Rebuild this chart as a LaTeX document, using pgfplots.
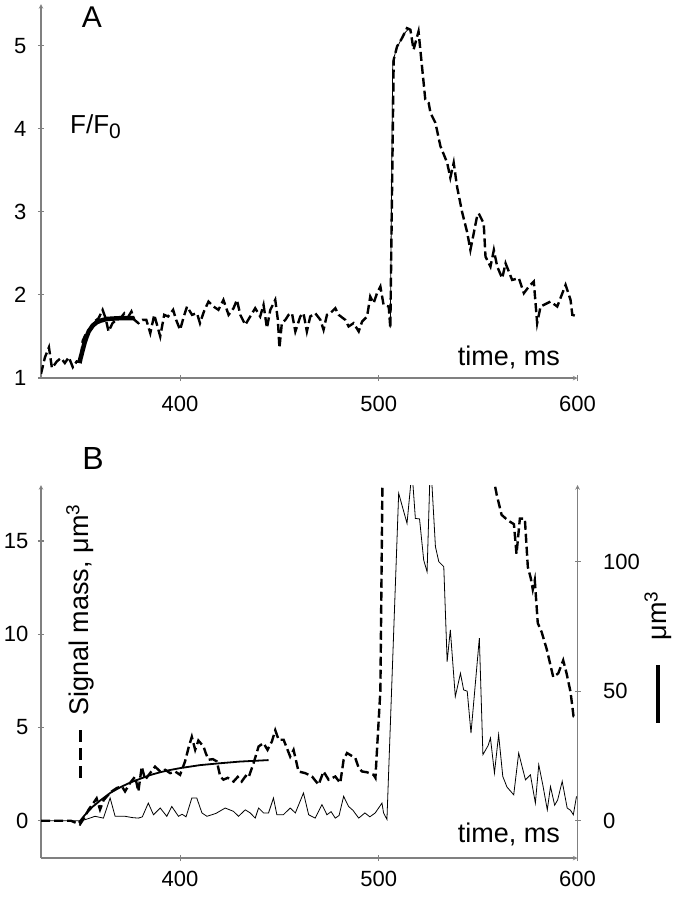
\documentclass[border=0pt]{standalone}
\usepackage{fontspec}
\setmainfont{Liberation Sans}
\usepackage{pgfplots}
\pgfplotsset{compat=1.18}
\definecolor{axgray}{RGB}{128,128,128}
\definecolor{thin}{RGB}{70,70,70}
\pgfplotsset{
 myax/.style={scale only axis, width=536.5pt, xmin=330, xmax=600,
  axis line style={draw=axgray, line width=1.1pt, -},
  every outer x axis line/.append style={-},
  every outer y axis line/.append style={-},
  every inner x axis line/.append style={-},
  every inner y axis line/.append style={-},
  tick style={draw=axgray, line width=1.1pt},
  tick align=outside, major tick length=6pt,
  ticklabel style={font=\fontsize{22}{24}\selectfont},
  /pgf/number format/assume math mode=true,
 },
 dashedtrace/.style={black, line width=2.4pt, dash pattern=on 9pt off 4pt},
}
\begin{document}
\begin{tikzpicture}[x=1pt,y=1pt]
\path[use as bounding box] (0,0) rectangle (675,-899);
% ---------------- Panel A
\begin{axis}[myax, at={(41pt,-378pt)}, anchor=south west, height=374pt,
  ymin=1, ymax=5.5, axis x line=bottom, axis y line=left,
  xtick={400,500,600}, ytick={1,2,3,4,5},
  xticklabel style={yshift=-12pt}, yticklabel style={xshift=-8pt}]
\addplot[dashedtrace] table {
330 1.05
332 1.25
334 1.37
335.5 1.12
338 1.2
340 1.24
342 1.18
344 1.25
346 1.13
348 1.2
350 1.19
351 1.45
353 1.55
355 1.6
357 1.68
359 1.72
361 1.82
362.5 1.72
364 1.56
366 1.66
368 1.7
370 1.72
372 1.78
374 1.74
375.5 1.8
377 1.7
379 1.66
381 1.7
383 1.7
385 1.54
387 1.76
390 1.5
392 1.76
394 1.74
396.5 1.82
398 1.7
400 1.58
402 1.75
403.5 1.86
406 1.76
408.5 1.78
410 1.66
412 1.8
414.3 1.92
416.8 1.86
419.3 1.82
421.8 1.94
424.4 1.76
426.9 1.84
428.6 1.94
430.3 1.76
432.8 1.64
435.3 1.74
437.8 1.84
440.3 1.74
442 1.88
443.7 1.6
445.4 1.82
447.9 1.94
449.2 1.7
450 1.36
451.2 1.66
453 1.7
454.6 1.76
456.3 1.78
458 1.56
460.5 1.74
462.1 1.78
463.8 1.56
465.5 1.74
468 1.78
470.6 1.7
472.2 1.58
473.9 1.76
475.6 1.78
478.1 1.84
479.8 1.76
483.1 1.7
484.8 1.62
487.3 1.66
489.9 1.56
491.6 1.68
494.1 1.74
495.7 1.98
497.4 1.9
499.1 2.02
500.8 2.1
502.4 1.88
505 1.86
505.8 1.6
507.5 4.83
509.2 4.99
511.7 5.09
514.2 5.21
515.9 5.19
517.5 4.95
520 5.17
520.9 4.95
523.4 4.35
525.1 4.31
526 4.19
528.5 4.07
531 3.79
534.4 3.59
536 3.41
537.7 3.59
539.4 3.3
541.9 3.0
544.5 2.75
546.1 2.54
549.5 2.95
550.3 2.98
552.8 2.86
553.7 2.46
556.2 2.34
557.9 2.54
559.6 2.34
562.1 2.2
563.8 2.38
567.1 2.18
570.5 2.2
573 2.02
575.5 2.1
578 2.16
579.7 1.66
581.4 1.86
583.1 1.88
586.4 1.92
589.8 1.86
594 2.12
596.5 1.94
597.4 1.76
600 1.74
};
\addplot[thin, line width=0.8pt] table {
505.8 1.6
507 4.8
509 4.97
511 5.06
513 5.15
515 5.2
};
\addplot[black, line width=4.5pt] table {
349.5 1.2
351 1.34
352 1.43
353 1.5
354 1.56
356 1.63
358 1.67
360 1.69
363 1.71
366 1.715
370 1.72
377 1.72
};
\end{axis}
\node[font=\fontsize{30}{30}\selectfont] at (92,-17) {A};
\node[font=\fontsize{26}{26}\selectfont, anchor=base west, inner sep=0pt] at (70,-133) {F/F\raisebox{-5pt}{\fontsize{21}{21}\selectfont 0}};
\node[font=\fontsize{27}{27}\selectfont, anchor=base east, inner sep=0pt] at (560,-365) {time, ms};
% ---------------- Panel B (left axis)
\begin{axis}[myax, at={(41pt,-858pt)}, anchor=south west, height=373pt,
  ymin=-2, ymax=18, axis x line=bottom, axis y line=left,
  xtick={400,500,600}, ytick={0,5,10,15},
  xticklabel style={yshift=-7pt}, yticklabel style={xshift=-6pt}]
\addplot[dashedtrace] table {
330 0
335 0
340 0
345 0
349.6 -0.2
352 0.2
354 0.6
356.4 0.95
358 1.2
359.7 0.6
361.5 1.1
363.1 1.3
365.6 1.57
368.1 1.75
370.7 1.84
372.3 1.57
374.8 2.02
377.4 2.37
379 1.57
380.7 2.9
382.4 2.2
384.9 2.55
387.4 2.9
390 2.64
392.5 2.73
395 2.55
397.5 2.64
400 2.46
402.5 3.18
404.2 3.89
405.9 4.5
407.6 3.8
409.2 4.3
411.8 3.98
413 3.6
414.3 3.27
416.5 3.3
418.5 3.18
420.2 2.37
421.8 2.2
424 2.3
426.9 2.1
429 2.35
431 2.1
433 2.4
434.4 2.3
437 3.09
439.5 3.98
442 4.16
444 3.8
446.2 4.25
447.9 4.85
449.6 4.34
452.1 4.34
455.4 3.44
457.1 3.8
459.6 2.64
463 2.55
466.4 2.37
469.7 1.93
472.2 2.64
474.7 2.2
478.1 2.37
480.6 2.02
482.3 3.27
484 3.63
486 3.5
488.2 3.36
489.9 2.82
491.6 2.64
494 2.6
497.4 2.46
498.3 2.3
500.8 7.0
502 20
504 40
530 60
556 25
557.5 18.5
559.3 17.5
561.8 16.4
565 16.1
568 15.9
569.3 14.3
571 16.2
573.5 16.2
575 13.6
576.5 13.0
577.5 12.4
578.5 12.9
580 10.6
582 10.1
584.5 9.2
587.8 7.7
590.3 7.9
592.8 8.6
594.5 7.9
596.5 6.9
598 5.6
600 5.5
};
\addplot[black, line width=1.8pt] table {
349 -0.1
352 0.3
356 0.75
360 1.1
365 1.5
370 1.8
375 2.05
380 2.25
385 2.45
390 2.6
395 2.72
400 2.82
410 2.98
420 3.08
430 3.17
444.5 3.25
};
\end{axis}
% ---------------- Panel B (right axis)
\begin{axis}[myax, at={(41pt,-858pt)}, anchor=south west, height=373pt,
  ymin=-14.4, ymax=129.6, axis x line=none, axis y line=right,
  ytick={0,50,100}, yticklabel style={xshift=19pt}]
\addplot[thin, line width=0.8pt] table {
330 0
340 0
350 0
352.2 0.4
357.2 1.7
361.4 1.0
364.8 8.75
367.3 1.7
372.3 1.7
376 1.2
379 1.0
381 1.5
384 6.8
386.6 2.3
390 4.9
393.3 1.7
395.8 5.5
399.2 1.7
401 2.5
403 1.5
405.9 8.75
408.4 8.75
411 3.0
413.5 1.7
418 2.8
422.7 4.9
426.9 3.6
429.4 1.7
432.8 4.2
435.3 3.0
437.8 1.0
439.5 4.9
442 3.0
444.5 3.0
447 8.75
448.7 2.3
452 2.3
455.4 4.9
458 3.0
462.1 10.7
464.7 2.3
468 1.0
471.4 6.2
473.9 2.3
476 3.5
478.1 1.0
480 2.0
482.3 9.4
484.8 5.5
487 4.0
489.9 1.0
493 3.0
495.5 1.5
498.2 3.0
501.6 6.8
502.4 3.0
504.1 0.5
510 126.4
514.2 114.8
516.7 135
518.4 116.7
520.5 116.5
522.6 100.6
524.3 96.1
526 140
528.5 105.8
530.2 100
532.7 98.1
534.4 61.4
536 73.7
538.5 47.9
541.1 56.9
542.7 50.5
544.5 50
546.4 33.8
550.6 70.5
552.4 25.5
555 29
556.2 31.9
558.2 18.4
560.3 33.2
562.4 17.1
564.5 13
567.9 10.0
570.4 26.1
573.8 15.8
576.3 17.7
578.8 6.8
580.5 21.6
582.5 14
584.8 4.2
586.4 13.2
588.5 6
590 8
592.3 15.2
594.8 4.9
596.5 4
597.9 2.3
599.5 9.4
};
\end{axis}
\node[font=\fontsize{32}{32}\selectfont] at (93,-458) {B};
\node[rotate=90, font=\fontsize{27}{27}\selectfont] at (80,-610) {Signal mass, μm\textsuperscript{3}};
\draw[line width=3pt, dash pattern=on 12pt off 6pt] (80,-730) -- (80,-782);
\node[font=\fontsize{27}{27}\selectfont, anchor=base east, inner sep=0pt] at (560,-842) {time, ms};
\node[rotate=90, font=\fontsize{27}{27}\selectfont] at (658,-616) {μm\textsuperscript{3}};
\draw[line width=3.5pt] (658,-665) -- (658,-723);
\end{tikzpicture}
\end{document}
